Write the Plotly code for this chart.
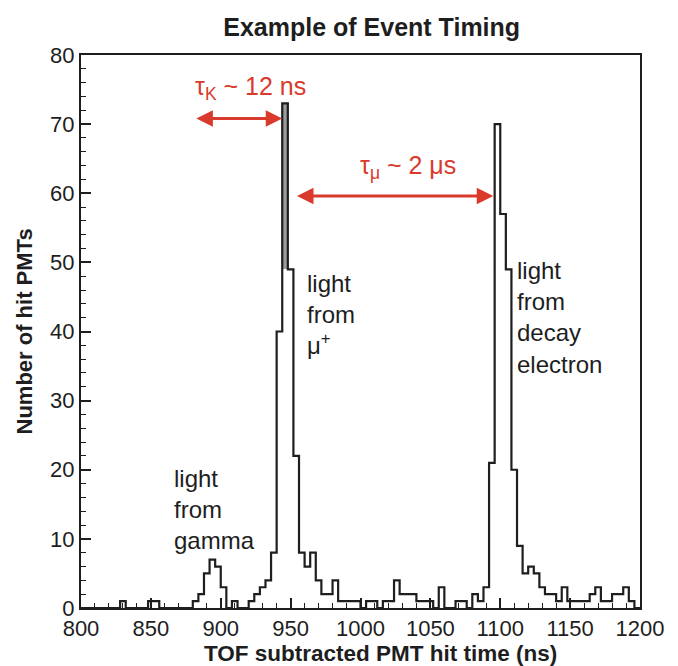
import plotly.graph_objects as go

# Histogram of PMT hit times, 4 ns bins from 800 to 1200 ns
bin_start = 800
bin_width = 4
hit_counts = [
    0, 0, 0, 0, 0, 0, 0, 1, 0, 0,      # 800-840
    0, 0, 1, 1, 0, 0, 0, 0, 0, 0,      # 840-880
    1, 2, 5, 7, 6, 3, 0, 1, 0, 0,      # 880-920
    1, 2, 3, 4, 8, 40, 73, 49, 22, 8,  # 920-960
    6, 8, 4, 2, 2, 4, 1, 1, 1, 1,      # 960-1000
    0, 1, 1, 0, 1, 1, 4, 2, 2, 2,      # 1000-1040
    1, 1, 1, 0, 3, 0, 0, 1, 1, 0,      # 1040-1080
    2, 1, 3, 21, 70, 57, 49, 20, 9, 5, # 1080-1120
    6, 5, 3, 2, 2, 1, 3, 1, 1, 1,      # 1120-1160
    1, 2, 3, 1, 1, 2, 2, 3, 1, 0,      # 1160-1200
]

x_ticks = [800, 850, 900, 950, 1000, 1050, 1100, 1150, 1200]
y_ticks = [0, 10, 20, 30, 40, 50, 60, 70, 80]

# Annotation content and anchor points (data units)
peak_labels = [
    ("light<br>from<br>gamma", 865, 14.2),
    ("light<br>from<br>\u03bc<sup>+</sup>", 960, 42.4),
    ("light<br>from<br>decay<br>electron", 1110.5, 42.0),
]
tau_k = {"text": "\u03c4<sub>K</sub> ~ 12 ns", "x": 921, "y": 75.2,
         "from": 881.5, "to": 944, "level": 70.8}
tau_mu = {"text": "\u03c4<sub>\u03bc</sub> ~ 2 \u03bcs", "x": 1034, "y": 63.8,
          "from": 953.5, "to": 1095, "level": 59.6}

RED = "#d93a2b"
INK = "#1e1e1e"
SHADE = "#9c9c9c"
FONT = "Liberation Sans, Arial, Helvetica, sans-serif"

# Step outline of the histogram
edges = [bin_start + i * bin_width for i in range(len(hit_counts) + 1)]
xs = [edges[0]]
ys = [0]
for i, c in enumerate(hit_counts):
    xs += [edges[i], edges[i + 1]]
    ys += [c, c]
xs.append(edges[-1])
ys.append(0)

# The sharpest spike column (far above both neighbours) gets a grey shade
spike_x, spike_base, spike_h = [], [], []
for i, c in enumerate(hit_counts):
    left = hit_counts[i - 1] if i > 0 else 0
    right = hit_counts[i + 1] if i + 1 < len(hit_counts) else 0
    top_neigh = max(left, right)
    if c - top_neigh > 20:
        spike_x.append(edges[i] + bin_width / 2)
        spike_base.append(top_neigh)
        spike_h.append(c - top_neigh)

fig = go.Figure()
fig.add_trace(go.Bar(
    x=spike_x, y=spike_h, base=spike_base, width=bin_width,
    marker=dict(color=SHADE, line=dict(width=0)),
    hoverinfo="skip", showlegend=False,
))
fig.add_trace(go.Scatter(
    x=xs, y=ys, mode="lines",
    line=dict(color=INK, width=2.2),
    hoverinfo="skip", showlegend=False,
))

annotations = []
for text, x, y in peak_labels:
    annotations.append(dict(
        x=x, y=y, xref="x", yref="y", text=text, showarrow=False,
        xanchor="left", yanchor="middle", align="left",
        font=dict(family=FONT, size=24, color=INK),
    ))

for tau in (tau_k, tau_mu):
    annotations.append(dict(
        x=tau["x"], y=tau["y"], xref="x", yref="y", text=tau["text"],
        showarrow=False, xanchor="center", yanchor="middle",
        font=dict(family=FONT, size=25, color=RED),
    ))
    annotations.append(dict(
        x=tau["to"], y=tau["level"], ax=tau["from"], ay=tau["level"],
        xref="x", yref="y", axref="x", ayref="y", text="",
        showarrow=True, arrowhead=2, arrowside="end+start",
        arrowsize=1.1, arrowwidth=3, arrowcolor=RED,
    ))

# Axis titles
annotations.append(dict(
    x=0.5, y=0, xref="paper", yref="paper", yshift=-45, xshift=20,
    text="<b>TOF subtracted PMT hit time (ns)</b>", showarrow=False,
    xanchor="center", yanchor="middle",
    font=dict(family=FONT, size=22.5, color=INK),
))
annotations.append(dict(
    x=0, y=0.5, xref="paper", yref="paper", xshift=-57,
    text="<b>Number of hit PMTs</b>", showarrow=False, textangle=-90,
    xanchor="center", yanchor="middle",
    font=dict(family=FONT, size=22, color=INK),
))

fig.update_layout(
    width=678, height=666,
    margin=dict(l=81, r=38, t=55, b=58),
    paper_bgcolor="white", plot_bgcolor="white",
    bargap=0,
    title=dict(
        text="<b>Example of Event Timing</b>",
        x=0.52, xref="paper", xanchor="center",
        y=1 - 27 / 666, yref="container", yanchor="middle",
        font=dict(family=FONT, size=25, color=INK),
    ),
    annotations=annotations,
    font=dict(family=FONT, color=INK),
)

fig.update_xaxes(
    range=[800, 1200], tickvals=x_ticks,
    ticks="inside", ticklen=10, tickwidth=1.5, tickcolor=INK,
    minor=dict(dtick=10, ticks="inside", ticklen=5, tickwidth=1.2, tickcolor=INK),
    showline=True, linewidth=2, linecolor=INK, mirror=True,
    showgrid=False, zeroline=False,
    tickfont=dict(family=FONT, size=22, color=INK),
)
fig.update_yaxes(
    range=[0, 80], tickvals=y_ticks,
    ticks="inside", ticklen=10, tickwidth=1.5, tickcolor=INK,
    minor=dict(dtick=2, ticks="inside", ticklen=5, tickwidth=1.2, tickcolor=INK),
    showline=True, linewidth=2, linecolor=INK, mirror=True,
    showgrid=False, zeroline=False,
    tickfont=dict(family=FONT, size=22, color=INK),
)

fig.write_html("out.html")
